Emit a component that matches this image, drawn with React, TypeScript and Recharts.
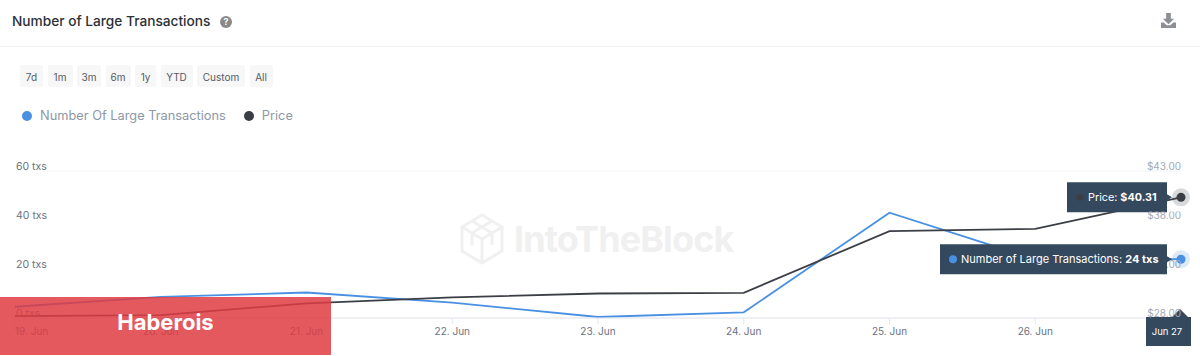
import { LineChart, Line, XAxis, YAxis, CartesianGrid, Legend } from 'recharts'

// values
const dates = ['19. Jun', '20. Jun', '21. Jun', '22. Jun', '23. Jun', '24. Jun', '25. Jun', '26. Jun', 'Jun 27']
const largeTxs = [4.6, 8.6, 10.4, 6.3, 0.4, 2.3, 43, 24, 24]
const price = [28.2, 28.3, 29.5, 30.1, 30.5, 30.57, 36.87, 37.1, 40.31]
const txTicks = [0, 20, 40, 60]
const priceTicks = [28, 33, 38, 43]
const ranges = [
  { label: '7d', w: 23 },
  { label: '1m', w: 25 },
  { label: '3m', w: 24 },
  { label: '6m', w: 25 },
  { label: '1y', w: 21 },
  { label: 'YTD', w: 32 },
  { label: 'Custom', w: 48 },
  { label: 'All', w: 23 },
]

const data = dates.map((date, i) => ({ date, txs: largeTxs[i], price: price[i] }))

const FONT = 'Inter, "Noto Sans", sans-serif'
const BLUE = '#4a90e2'
const DARK = '#3b3f45'
const NAVY = '#34495e'
const lastIndex = dates.length - 1

const XTick = ({ x, y, payload, index }: any) => {
  if (payload.value === 'Jun 27') {
    return (
      <g>
        <path
          d={`M${x - 35} ${y - 9} H${x - 9} L${x - 1} ${y - 17} L${x + 7} ${y - 9} H${x + 10} V${y + 20} H${x - 35} Z`}
          fill={NAVY}
        />
        <text x={x - 14} y={y + 9} fontSize={9.5} fill="#fff" textAnchor="middle" fontFamily={FONT}>
          {payload.value}
        </text>
      </g>
    )
  }
  return (
    <g>
      <line x1={x} x2={x} y1={y - 8} y2={y - 2} stroke="#e3e6ee" />
      <text x={x} y={y + 9} fontSize={10} fill="#6b7280" textAnchor={index === 0 ? 'start' : 'middle'} fontFamily={FONT}>
        {payload.value}
      </text>
    </g>
  )
}

const TxTick = ({ x, y, payload }: any) => (
  <text x={x - 5} y={y - 1.5} fontSize={10.5} fill="#6b7280" fontFamily={FONT}>
    {payload.value} txs
  </text>
)

// the tooltips sit over the $33 and $38 labels in the screenshot, axis text draws above the
// lines here so those two get clipped to the part that still shows
const PriceTick = ({ x, y, payload }: any) => {
  const right = x + 6
  const clip =
    payload.value === 33 ? { x: right - 14, y: y - 20 } : payload.value === 38 ? { x: right - 50, y: y - 8.5 } : null
  const id = `price-tick-${payload.value}`
  return (
    <g>
      {clip && (
        <clipPath id={id}>
          <rect x={clip.x} y={clip.y} width={60} height={30} />
        </clipPath>
      )}
      <text
        x={right}
        y={y - 1.5}
        fontSize={10}
        fill="#a3a9b3"
        textAnchor="end"
        fontFamily={FONT}
        clipPath={clip ? `url(#${id})` : undefined}
      >
        ${payload.value.toFixed(2)}
      </text>
    </g>
  )
}

// tooltip box stuck to the last point, same as the hover state in the screenshot
const PriceDot = ({ cx, cy, index }: any) => {
  if (index !== lastIndex) return <g key={index} />
  return (
    <g key={index}>
      <path
        d={`M${cx - 114} ${cy - 15} H${cx - 14} V${cy - 3} L${cx - 9} ${cy} L${cx - 14} ${cy + 3} V${cy + 15} H${cx - 114} Z`}
        fill={NAVY}
      />
      <circle cx={cx - 101} cy={cy} r={3.5} fill={DARK} />
      <text x={cx - 93} y={cy + 4} fontSize={10.8} fill="#fff" fontFamily={FONT}>
        Price: <tspan fontWeight={700}>$40.31</tspan>
      </text>
      <circle cx={cx} cy={cy} r={9} fill={DARK} fillOpacity={0.2} />
      <circle cx={cx} cy={cy} r={4.5} fill={DARK} />
    </g>
  )
}

const TxDot = ({ cx, cy, index }: any) => {
  if (index !== lastIndex) return <g key={index} />
  return (
    <g key={index}>
      <path
        d={`M${cx - 241} ${cy - 15} H${cx - 14} V${cy - 3} L${cx - 9} ${cy} L${cx - 14} ${cy + 3} V${cy + 15} H${cx - 241} Z`}
        fill={NAVY}
      />
      <circle cx={cx - 228} cy={cy} r={4} fill={BLUE} />
      <text x={cx - 220} y={cy + 4} fontSize={11} fill="#fff" fontFamily={FONT}>
        Number of Large Transactions: <tspan fontWeight={700}>24 txs</tspan>
      </text>
      <circle cx={cx} cy={cy} r={9} fill={BLUE} fillOpacity={0.2} />
      <circle cx={cx} cy={cy} r={4.5} fill={BLUE} />
    </g>
  )
}

const ChartLegend = ({ payload }: any) => (
  <div style={{ display: 'flex', alignItems: 'center', fontFamily: FONT, fontSize: 12.8, color: '#8d97a5' }}>
    {(payload || []).map((item: any) => (
      <div key={item.value} style={{ display: 'flex', alignItems: 'center', marginRight: 18 }}>
        <span style={{ width: 10, height: 10, borderRadius: 5, background: item.color, marginRight: 8 }} />
        {item.value}
      </div>
    ))}
  </div>
)

const Watermark = () => (
  <div style={{ position: 'absolute', left: 460, top: 213, display: 'flex', alignItems: 'center', color: '#f0f0f0' }}>
    <svg width={44} height={52} viewBox="0 0 44 52" fill="none" stroke="#f0f0f0" strokeWidth={3}>
      <path d="M22 2 L42 14 V38 L22 50 L2 38 V14 Z" />
      <path d="M2 14 L22 26 L42 14 M22 26 V50 M12 8 L32 20 V32 M32 8 L12 20 V32" />
    </svg>
    <span style={{ marginLeft: 10, fontFamily: FONT, fontSize: 36, fontWeight: 700, letterSpacing: -0.9, lineHeight: '52px' }}>
      IntoTheBlock
    </span>
  </div>
)

export default function App() {
  return (
    <div style={{ position: 'relative', width: 1200, height: 356, background: '#fff', overflow: 'hidden', fontFamily: FONT }}>
      <style>{'body{margin:0}'}</style>

      <div style={{ position: 'absolute', left: 12, top: 12, fontSize: 13.7, fontWeight: 500, color: '#2b3138', lineHeight: '18px' }}>
        Number of Large Transactions
      </div>
      <div style={{ position: 'absolute', left: 220, top: 16, width: 12, height: 12, borderRadius: 6, background: '#8a8a8a', color: '#fff', fontSize: 9, fontWeight: 700, lineHeight: '12px', textAlign: 'center' }}>
        ?
      </div>
      <svg style={{ position: 'absolute', left: 1161, top: 13 }} width={15} height={15} viewBox="0 0 16 16" fill="#8c8f94">
        <path d="M5.5 0 H10.5 V6 H14 L8 12 L2 6 H5.5 Z" />
        <path d="M0 10 H3 L6 13 H10 L13 10 H16 V16 H0 Z" />
      </svg>
      <div style={{ position: 'absolute', left: 0, top: 46, width: 1200, height: 1, background: '#eef0f2' }} />

      <div style={{ position: 'absolute', left: 20, top: 65, display: 'flex', gap: 4.5 }}>
        {ranges.map((r) => (
          <div key={r.label} style={{ width: r.w, height: 22, background: '#f7f7f7', borderRadius: 2, fontSize: 10, lineHeight: '24px', textAlign: 'center', color: '#555b63' }}>
            {r.label}
          </div>
        ))}
      </div>

      <Watermark />

      <div style={{ position: 'absolute', left: 0, top: 0 }}>
        <LineChart
          width={1200}
          height={356}
          data={data}
          margin={{ top: 156, right: 19, bottom: 0, left: 15 }}
        >
          <CartesianGrid
            vertical={false}
            stroke="#f3f4f6"
            horizontal={(p: any) => <line key={p.key} x1={p.x1 + 32} x2={p.x2} y1={p.y1} y2={p.y2} stroke="#f3f4f6" />}
          />
          <XAxis
            dataKey="date"
            interval={0}
            padding={{ left: 0, right: 0 }}
            axisLine={{ stroke: '#e3e6ee' }}
            tickLine={false}
            height={38}
            tick={<XTick />}
          />
          <YAxis yAxisId="txs" domain={[0, 60]} ticks={txTicks} mirror axisLine={false} tickLine={false} tickMargin={0} tick={<TxTick />} />
          <YAxis yAxisId="price" orientation="right" domain={[28, 43]} ticks={priceTicks} mirror axisLine={false} tickLine={false} tickMargin={0} tick={<PriceTick />} />
          <Legend
            verticalAlign="top"
            align="left"
            wrapperStyle={{ position: 'absolute', left: 22, top: 108, width: 400 }}
            content={<ChartLegend />}
          />
          <Line yAxisId="txs" name="Number Of Large Transactions" dataKey="txs" type="linear" stroke={BLUE} strokeWidth={1.8} dot={<TxDot />} activeDot={false} isAnimationActive={false} />
          <Line yAxisId="price" name="Price" dataKey="price" type="linear" stroke={DARK} strokeWidth={1.8} dot={<PriceDot />} activeDot={false} isAnimationActive={false} />
        </LineChart>
      </div>

      <div style={{ position: 'absolute', left: 0, top: 297, width: 331, height: 58, background: 'rgba(222,60,66,0.85)', color: '#fff', fontSize: 22, fontWeight: 700, lineHeight: '50px', textAlign: 'center', fontFamily: FONT }}>
        Haberois
      </div>
    </div>
  )
}
